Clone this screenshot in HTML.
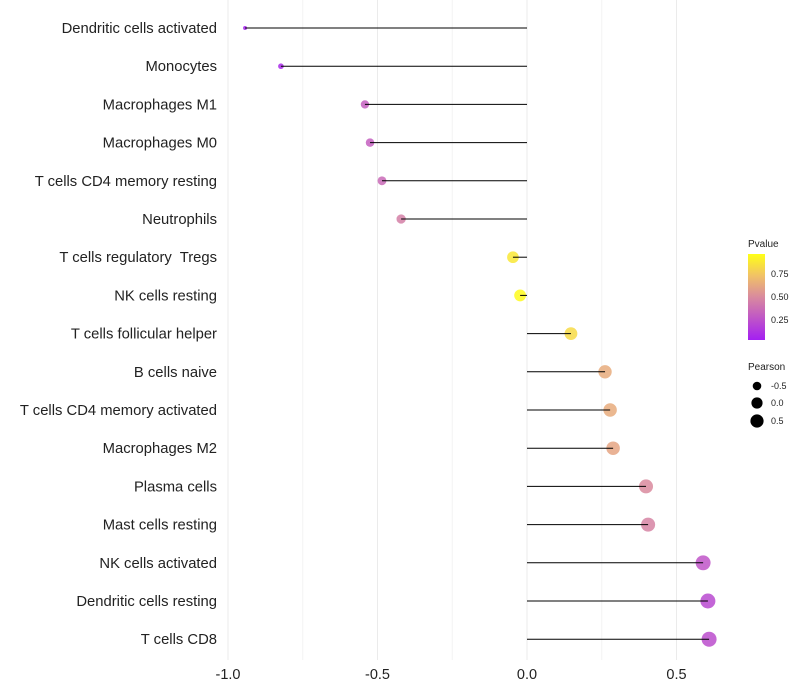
<!DOCTYPE html>
<html><head><meta charset="utf-8"><style>
body{margin:0;background:#fff;font-family:"Liberation Sans",sans-serif}
svg{display:block}
text{white-space:pre}
</style></head><body>
<svg id="chart" width="800" height="700">
<defs><linearGradient id="pg" x1="0" y1="1" x2="0" y2="0">
<stop offset="0" stop-color="#a41ff2"/><stop offset="0.5" stop-color="#d98a9e"/><stop offset="0.75" stop-color="#f1c266"/><stop offset="1" stop-color="#ffff16"/>
</linearGradient></defs>
<g id="grid"></g><g id="marks"></g><g id="labels"></g>
<g font-size="9" fill="#222">
<text x="748" y="247" font-size="10">Pvalue</text>
<rect x="748" y="254" width="17" height="86" fill="url(#pg)"/>
<text x="771" y="277">0.75</text><text x="771" y="300">0.50</text><text x="771" y="323">0.25</text>
</g>
<g font-size="9" fill="#222">
<text x="748" y="370" font-size="10">Pearson</text>
<circle cx="757" cy="386" r="4.3" fill="#000"/><text x="771" y="389">-0.5</text>
<circle cx="757" cy="403" r="5.6" fill="#000"/><text x="771" y="406">0.0</text>
<circle cx="757" cy="421" r="6.6" fill="#000"/><text x="771" y="424">0.5</text>
</g>
</svg>
<script>
const categories=["Dendritic cells activated","Monocytes","Macrophages M1","Macrophages M0","T cells CD4 memory resting","Neutrophils","T cells regulatory  Tregs ","NK cells resting","T cells follicular helper","B cells naive","T cells CD4 memory activated","Macrophages M2","Plasma cells","Mast cells resting","NK cells activated","Dendritic cells resting","T cells CD8"];
const pearson=[-0.943,-0.823,-0.542,-0.525,-0.485,-0.421,-0.047,-0.023,0.147,0.261,0.278,0.288,0.398,0.405,0.589,0.605,0.609];
const pvalues=[0.02,0.05,0.3,0.3,0.35,0.45,0.9,0.98,0.85,0.65,0.65,0.62,0.5,0.47,0.25,0.2,0.22];
const xTicks=[-1.0,-0.5,0.0,0.5];
const xTickLabels=["-1.0","-0.5","0.0","0.5"];
const NS="http://www.w3.org/2000/svg";
const x=v=>527+v*299;
const y=i=>28+i*38.2;
function mk(t,a,p){const e=document.createElementNS(NS,t);for(const k in a)e.setAttribute(k,a[k]);p.appendChild(e);return e;}
function lerp(a,b,t){return a.map((v,i)=>Math.round(v+(b[i]-v)*t));}
function col(p){const s=[[0,[164,31,242]],[0.5,[217,138,158]],[0.75,[241,194,102]],[1,[255,255,22]]];
for(let i=0;i<s.length-1;i++){if(p<=s[i+1][0]){const c=lerp(s[i][1],s[i+1][1],(p-s[i][0])/(s[i+1][0]-s[i][0]));return`rgb(${c})`;}}return"rgb(255,255,22)";}
const grid=document.getElementById('grid'),marks=document.getElementById('marks'),labels=document.getElementById('labels');
for(let v=-1;v<=0.51;v+=0.25){const l=mk('line',{x1:x(v),x2:x(v),y1:0,y2:660,stroke:Math.abs(v*2%1)<1e-6?'#ebebeb':'#f4f4f4','stroke-width':1},grid);

}
xTicks.forEach((v,i)=>{const t=mk('text',{x:x(v),y:679,'text-anchor':'middle','font-size':14.5,fill:'#222'},labels);t.textContent=xTickLabels[i];

});
categories.forEach((c,i)=>{
const t=mk('text',{x:217,y:y(i)+5,'text-anchor':'end','font-size':14.8,fill:'#222'},labels);t.textContent=c.trimEnd();


const r=Math.sqrt(35.8+33.8*pearson[i]);
const d=mk('circle',{cx:x(pearson[i]),cy:y(i),r:r,fill:col(pvalues[i]),'fill-opacity':0.85},marks);


const l=mk('line',{x1:x(0),x2:x(pearson[i]),y1:y(i),y2:y(i),stroke:'#000','stroke-width':1},marks);


});
</script>
</body></html>
